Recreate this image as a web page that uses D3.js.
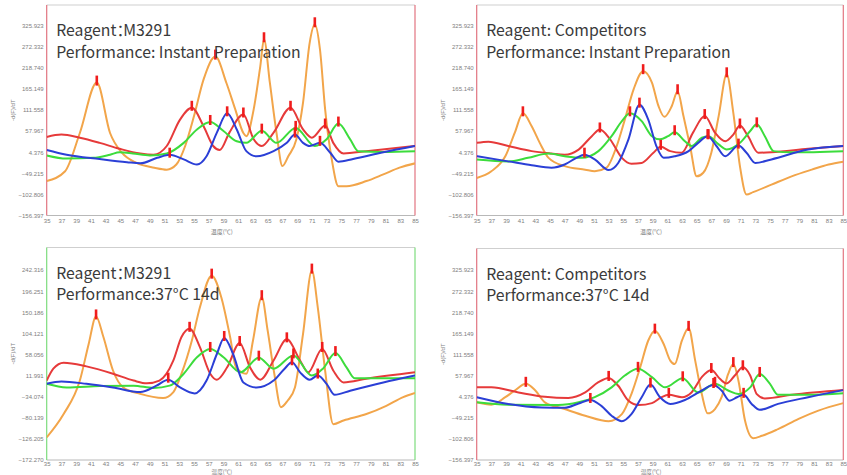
<!DOCTYPE html>
<html>
<head>
<meta charset="utf-8">
<script src="https://cdn.jsdelivr.net/npm/d3@7"></script>
<style>
  html, body { margin: 0; padding: 0; background: #fff; }
  svg { display: block; }
</style>
</head>
<body>
<svg id="chart" width="847" height="475"></svg>
<script>
// ---- Axis ticks ----
const xTicks = d3.range(35, 86, 2);
const yTicksA = [-156.397, -102.806, -49.215, 4.376, 57.967, 111.558, 165.149, 218.740, 272.332, 325.923];
const yTicksB = [-172.270, -126.205, -80.139, -34.074, 11.991, 58.056, 104.121, 150.186, 196.251, 242.316];

// ---- Panel captions ----
const reagents = ["Reagent\uFF1AM3291", "Reagent: Competitors", "Reagent\uFF1AM3291", "Reagent: Competitors"];
const performances = ["Performance: Instant Preparation", "Performance: Instant Preparation",
                      "Performance:37\u00B0C 14d", "Performance:37\u00B0C 14d"];

// ---- Melt curves: [temperature °C, -d(F)/dT] ----
// M3291, instant preparation
const m3291InstantOrange = [[35,-69],[37.5,-44],[39.5,53],[41.8,181],[43.6,53],[45.2,3],[47.2,-23],[49.6,-35],[51.3,-40],[52.6,-27],[53.8,20],[55,96],[56.3,189],[57.9,247],[59.4,180],[60.6,113],[61.7,53],[62.1,45],[63.1,113],[64,223],[64.5,291],[65.3,180],[66.2,53],[67,-31],[67.8,-6],[68.9,37],[69.8,130],[70.7,282],[71.4,329],[72.1,265],[72.8,113],[73.7,-14],[74.6,-82],[75.7,-82],[78.4,-69],[80.7,-52],[82.9,-35],[85,-24]];
const m3291InstantRed = [[35,43],[37,49],[39.5,41],[42.2,28],[44.9,13],[47.7,1],[49.5,-2],[51.3,20],[53.1,87],[54.7,117],[56.3,70],[57.6,20],[58.5,10],[59.8,54],[61.7,100],[63.1,37],[64.2,20],[65.8,54],[68.1,117],[69.8,62],[71,41],[72.8,72],[73.9,28],[75.3,1],[78.4,7],[85,20]];
const m3291InstantGreen = [[35,-4],[37.7,-12],[41.3,-10],[43.6,-2],[44.9,4],[46.7,1],[49,-4],[51.3,1],[53.6,28],[55.4,62],[57.2,81],[59,58],[60.8,32],[62.1,28],[64.2,59],[66.2,28],[68.8,66],[71.4,20],[73,37],[74.6,77],[76.2,37],[77.3,7],[80.7,5],[85,7]];
const m3291InstantBlue = [[35,10],[37.7,-2],[42.2,-13],[45.9,-21],[47.7,-24],[50,-10],[51.7,-2],[53.6,-14],[55.4,-27],[56.7,-6],[58.1,54],[59.5,103],[60.8,62],[62.1,7],[63.5,-6],[65.8,7],[67.6,28],[68.7,49],[69.8,28],[70.7,20],[72.1,28],[73.5,3],[74.6,-20],[76.6,-13],[80.7,4],[85,20]];
const m3291InstantPeaks = [[41.8,57.9,64.5,71.4],[54.7,61.7,68.1,72.8],[57.2,64.2,68.8,74.6],[51.7,59.5,68.7,72.1]];

// Competitors, instant preparation
const compInstantOrange = [[35,-61],[37,-44],[38.9,-6],[40.2,54],[41.3,103],[42.5,70],[43.6,28],[44.8,-10],[47,-31],[49.8,-40],[51.1,-44],[52.7,-35],[54.1,20],[55.2,87],[56.4,164],[57.7,210],[58.9,181],[59.8,121],[60.6,94],[61.6,121],[62.4,159],[63.2,96],[64.1,20],[65,-57],[65.9,-48],[67,3],[68,96],[69.1,202],[70,104],[70.9,-31],[71.8,-103],[72.7,-97],[75.2,-78],[77.95,-57],[80.7,-40],[83,-27],[85,-20]];
const compInstantRed = [[35,28],[36.6,31],[39.3,20],[42.5,7],[45.2,1],[47,-2],[48.9,11],[50.7,45],[51.8,62],[53.2,37],[54.8,-10],[56.1,-25],[57.5,-23],[59.1,3],[60.1,18],[61.4,7],[62.95,3],[64.5,54],[66.1,96],[67.5,54],[68.9,32],[70,49],[70.9,72],[72,45],[73.4,3],[75.2,4],[80.2,13],[85,20]];
const compInstantGreen = [[35,-14],[39.3,-19],[42,-10],[44.8,1],[47,-6],[49.3,-10],[51.6,7],[53.4,45],[54.8,83],[55.9,103],[57.5,83],[58.9,45],[60,37],[61.1,45],[62,55],[63.4,32],[64.3,20],[65.7,41],[66.6,45],[68,24],[69.1,11],[70.9,28],[72.3,58],[73.2,75],[74.3,45],[75.5,7],[78,4],[85,7]];
const compInstantBlue = [[35,-6],[39.3,-19],[42.5,-29],[45.2,-35],[47,-27],[48.6,-10],[49.7,-2],[51.1,-14],[53,-41],[54.3,-23],[55.7,37],[57.2,125],[58.4,87],[59.5,20],[60.5,-10],[62,-6],[63.9,7],[65.2,28],[66.5,45],[67.7,20],[68.9,-6],[70.7,21],[71.8,3],[73,-23],[75.2,-14],[80.2,11],[85,20]];
const compInstantPeaks = [[41.3,57.7,62.4,69.1],[51.8,60.1,66.1,70.9],[55.9,62,66.6,73.2],[49.7,57.2,66.5,70.7]];

// M3291, 37 °C for 14 days
const m3291StoredOrange = [[35,-123],[37.3,-72],[39.5,1],[40.7,81],[41.7,141],[42.7,96],[44,23],[45.4,-14],[47.7,-28],[50.8,-37],[52.2,-24],[53.3,16],[54.7,88],[55.8,161],[57.4,230],[58.7,183],[59.9,96],[60.7,30],[62.1,16],[63,88],[64.2,183],[65,110],[65.9,16],[66.8,-57],[67.7,-43],[68.7,-14],[69.8,103],[71,241],[71.8,161],[72.8,23],[73.9,-94],[75.3,-86],[78.4,-72],[81.1,-54],[83.4,-35],[85,-26]];
const m3291StoredRed = [[35,1],[35.9,27],[37.3,40],[40.4,32],[44,16],[46.8,1],[48.6,-5],[50.3,1],[52.2,45],[53.3,96],[54.4,114],[55.8,74],[57.2,16],[58.1,3],[59.5,30],[61.2,83],[62.6,30],[64,3],[65.8,45],[67.6,91],[69.4,45],[70.5,19],[72.4,70],[73.9,23],[75.3,-3],[78.4,5],[85,19]];
const m3291StoredGreen = [[35,-6],[37.7,-14],[42.2,-11],[46.8,-10],[49.5,-15],[51.7,-10],[53.6,16],[55.4,52],[57.2,70],[59,52],[61.3,19],[63.8,51],[65.8,27],[68.5,56],[71,12],[72.5,27],[74.2,61],[75.7,30],[76.8,6],[80.7,6],[85,6]];
const m3291StoredBlue = [[35,-6],[37,-1],[40.4,-6],[44,-14],[47.7,-24],[49.9,-10],[51.5,3],[53.1,-14],[55.1,-27],[56.7,1],[58.1,59],[59.1,94],[60.3,59],[61.7,-3],[63.5,-14],[65.8,1],[67.3,27],[68.3,41],[69.4,19],[70.7,3],[71.8,12],[73,-6],[74.1,-30],[76.2,-21],[80.7,-3],[85,12]];
const m3291StoredPeaks = [[41.7,57.4,64.2,71],[54.4,61.2,67.6,72.4],[57.2,63.8,68.5,74.2],[51.5,59.1,68.3,71.8]];

// Competitors, 37 °C for 14 days
const compStoredOrange = [[35,-10],[37,-16],[38.9,3],[40.2,20],[41.7,37],[43,20],[44.3,-10],[47,-27],[49.8,-44],[53,-58],[54.8,-40],[56.1,11],[57.3,79],[58.4,147],[59.3,172],[60.5,138],[61.4,96],[62,87],[63,147],[63.9,179],[64.8,96],[65.7,11],[66.5,-38],[67.5,-27],[68.4,3],[69.3,62],[70,87],[70.7,45],[71.6,-57],[72.7,-101],[73.9,-95],[76.1,-78],[78.9,-52],[81.6,-31],[85,-12]];
const compStoredRed = [[35,28],[37,28],[40.7,15],[44.3,4],[47.5,1],[49.8,15],[51.6,41],[53,52],[54.3,32],[55.7,-6],[57.1,-17],[58.9,-12],[60.2,3],[61.2,9],[63,3],[64.3,15],[65.7,54],[67,72],[68.2,49],[69.1,38],[70.2,58],[71.3,79],[72.3,58],[73.2,11],[74.3,0],[78,9],[85,21]];
const compStoredGreen = [[35,-10],[39.3,-16],[46.1,-17],[48.9,-10],[51.1,3],[53.4,28],[55.2,58],[57,75],[58.9,54],[60.7,28],[63.1,51],[65.2,15],[67.5,37],[69.3,20],[70.7,11],[72.3,28],[73.6,62],[75,37],[76.1,9],[80.2,9],[85,13]];
const compStoredBlue = [[35,3],[39.3,-14],[43.9,-23],[47,-24],[48.9,-13],[50.5,-4],[52,-19],[53.4,-44],[54.8,-58],[56.1,-40],[57.5,3],[58.7,35],[60,3],[61.4,-14],[63.4,-4],[65.7,20],[67.3,34],[68.4,20],[69.5,-6],[70.5,3],[71.4,9],[72.5,-14],[73.6,-29],[76.1,-14],[80.2,3],[85,21]];
const compStoredPeaks = [[41.7,59.3,63.9,70],[53,61.2,67,71.3],[57,63.1,67.5,73.6],[50.5,58.7,67.3,71.4]];

// ---- Styling and layout ----
const seriesColors = ["#f2a54a", "#e63a3a", "#3cdc3c", "#2b3fd6"];
const fontCJK = "'Noto Sans CJK SC', 'Noto Sans', sans-serif";

const panels = [
  { box: { left: 46.7, top: 5,   right: 415,   bottom: 215.5 }, frame: "#e27480", ticks: yTicksA,
    series: [m3291InstantOrange, m3291InstantRed, m3291InstantGreen, m3291InstantBlue], peaks: m3291InstantPeaks },
  { box: { left: 476.7, top: 5,  right: 843.3, bottom: 215.5 }, frame: "#e27480", ticks: yTicksA,
    series: [compInstantOrange, compInstantRed, compInstantGreen, compInstantBlue], peaks: compInstantPeaks },
  { box: { left: 46.7, top: 247.5, right: 415, bottom: 460 }, frame: "#7ddc7d", ticks: yTicksB,
    series: [m3291StoredOrange, m3291StoredRed, m3291StoredGreen, m3291StoredBlue], peaks: m3291StoredPeaks },
  { box: { left: 476.7, top: 248.5, right: 843.3, bottom: 460 }, frame: "#e27480", ticks: yTicksA,
    series: [compStoredOrange, compStoredRed, compStoredGreen, compStoredBlue], peaks: compStoredPeaks }
];

const svg = d3.select("#chart");
const fmt = d3.format(".3f");

panels.forEach((p, i) => {
  const b = p.box;
  const g = svg.append("g");
  const tickSpan = 190; // pixel distance between first and last y tick
  const lowRow = b.bottom + 18 > 470; // bottom row sits against the page edge

  const x = d3.scaleLinear().domain([35, 85]).range([b.left, b.right]);
  const y = d3.scaleLinear()
    .domain([p.ticks[0], p.ticks[p.ticks.length - 1]])
    .range([b.bottom, b.bottom - tickSpan]);

  // clip region for the plot interior
  const clipId = "clip" + i;
  g.append("clipPath").attr("id", clipId)
    .append("rect").attr("x", b.left).attr("y", b.top)
    .attr("width", b.right - b.left).attr("height", b.bottom - b.top);

  // y axis
  const yAxis = g.append("g").attr("transform", `translate(${b.left},0)`)
    .call(d3.axisLeft(y).tickValues(p.ticks).tickFormat(fmt).tickSize(0).tickPadding(3));
  yAxis.select(".domain").remove();
  yAxis.selectAll("text").attr("fill", "#808080").style("font", "6px 'Liberation Sans', Arial, sans-serif");

  // x axis
  const xAxis = g.append("g").attr("transform", `translate(0,${b.bottom})`)
    .call(d3.axisBottom(x).tickValues(xTicks).tickFormat(d3.format("d")).tickSize(0).tickPadding(lowRow ? 1.8 : 3));
  xAxis.select(".domain").remove();
  xAxis.selectAll("text").attr("fill", "#808080").style("font", "6px 'Liberation Sans', Arial, sans-serif");

  // axis titles
  g.append("text")
    .attr("x", (b.left + b.right) / 2 - 9).attr("y", lowRow ? 474 : b.bottom + 18)
    .attr("text-anchor", "middle").attr("fill", "#808080")
    .style("font", (lowRow ? "5.6px " : "6px ") + fontCJK).text("温度(℃)");
  g.append("text")
    .attr("transform", `translate(${b.left - 32},${b.top + (b.bottom - b.top) * 0.5}) rotate(-90)`)
    .attr("text-anchor", "middle").attr("fill", "#808080")
    .style("font", "6px 'Liberation Sans', Arial, sans-serif").text("-d(F)/dT");

  // frame: grey top and bottom, coloured sides
  g.append("line").attr("x1", b.left).attr("x2", b.right).attr("y1", b.top).attr("y2", b.top)
    .attr("stroke", "#cfcfcf").attr("stroke-width", 1);
  g.append("line").attr("x1", b.left).attr("x2", b.right).attr("y1", b.bottom).attr("y2", b.bottom)
    .attr("stroke", "#b8b8b8").attr("stroke-width", 1);
  [b.left, b.right].forEach(xx => {
    g.append("line").attr("x1", xx).attr("x2", xx).attr("y1", b.top).attr("y2", b.bottom)
      .attr("stroke", p.frame).attr("stroke-width", 1.2);
  });

  // curves
  const line = d3.line().x(d => x(d[0])).y(d => y(d[1])).curve(d3.curveMonotoneX);
  const plot = g.append("g").attr("clip-path", `url(#${clipId})`);
  p.series.forEach((s, k) => {
    plot.append("path").datum(s).attr("d", line)
      .attr("fill", "none").attr("stroke", seriesColors[k])
      .attr("stroke-width", 2).attr("stroke-linejoin", "round");
  });

  // peak markers (short red bars at each called peak)
  p.peaks.forEach((temps, k) => {
    temps.forEach(t => {
      const pt = p.series[k].reduce((a, c) => Math.abs(c[0] - t) < Math.abs(a[0] - t) ? c : a);
      plot.append("rect")
        .attr("x", x(pt[0]) - 1.3).attr("y", y(pt[1]) - 7)
        .attr("width", 2.6).attr("height", 10)
        .attr("fill", "#f01c1c");
    });
  });

  // caption; the full-width colon's trailing space is closed up
  const cap = g.append("text").attr("fill", "#3a3a3a").style("font", "15.8px " + fontCJK);
  const line1 = cap.append("tspan").attr("x", b.left + 9.5).attr("y", b.top + 31);
  const parts = reagents[i].split("\uFF1A");
  if (parts.length === 2) {
    line1.append("tspan").text(parts[0] + "\uFF1A");
    line1.append("tspan").attr("dx", -9).text(parts[1]);
  } else {
    line1.text(reagents[i]);
  }
  cap.append("tspan").attr("x", b.left + 9.5).attr("y", b.top + 52.5).text(performances[i]);
});
</script>
</body>
</html>
